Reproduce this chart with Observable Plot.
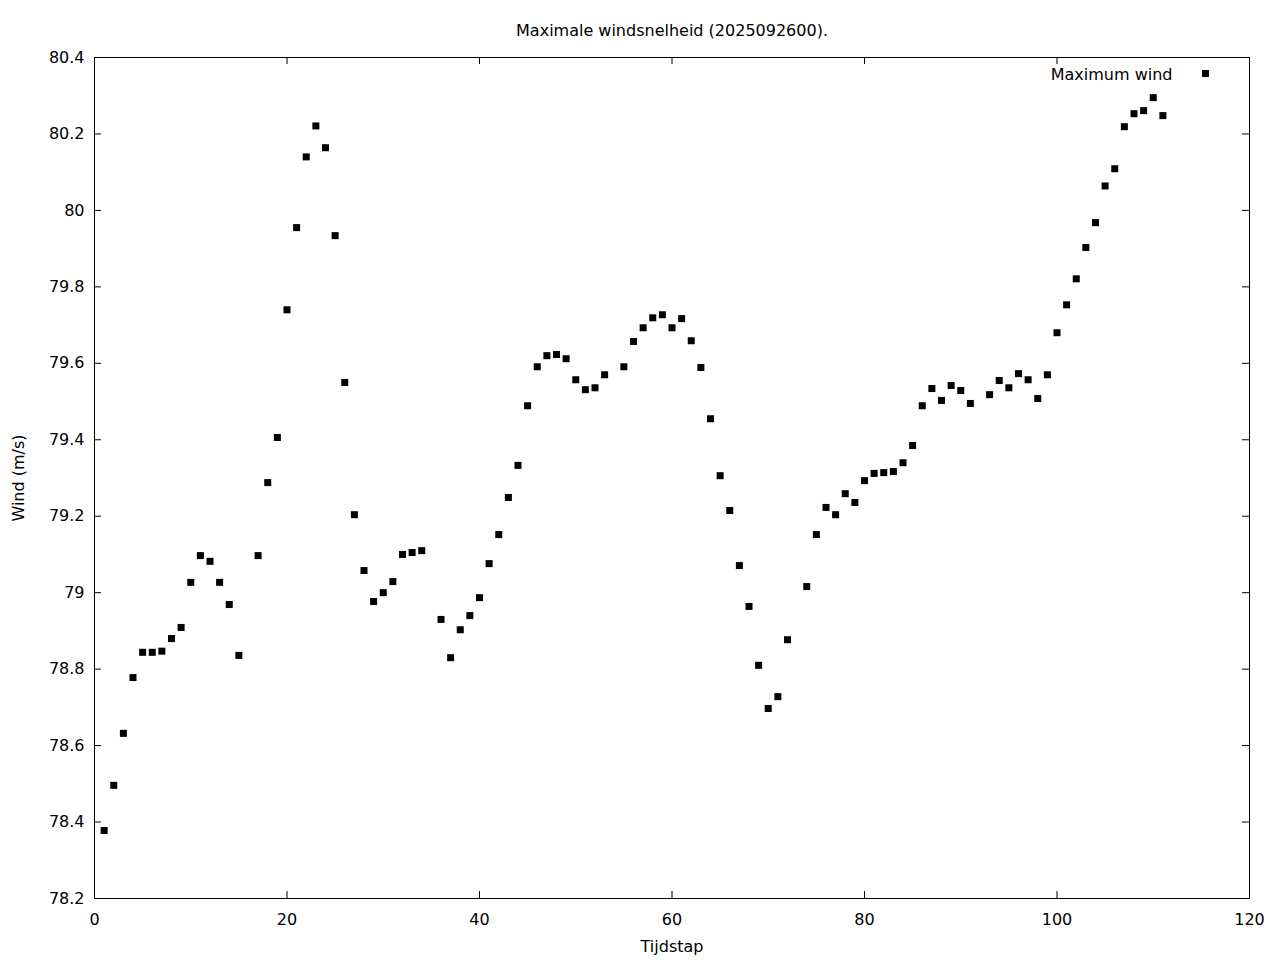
<!DOCTYPE html>
<html>
<head>
<meta charset="utf-8">
<script src="https://cdn.jsdelivr.net/npm/d3@7"></script>
<script src="https://cdn.jsdelivr.net/npm/@observablehq/plot@0.6"></script>
<style>
  html, body { margin: 0; padding: 0; background: #fff; }
  #chart { width: 1280px; height: 960px; }
</style>
</head>
<body>
<div id="chart"></div>
<script>
const title = "Maximale windsnelheid (2025092600).";
const xLabel = "Tijdstap";
const yLabel = "Wind (m/s)";
const legendLabel = "Maximum wind";

const xTicks = [0, 20, 40, 60, 80, 100, 120];
const yTicks = [78.2, 78.4, 78.6, 78.8, 79.0, 79.2, 79.4, 79.6, 79.8, 80.0, 80.2, 80.4];

const tijdstap = [
  1, 2, 3, 4, 5, 6, 7, 8, 9, 10,
  11, 12, 13, 14, 15, 17, 18, 19, 20,
  21, 22, 23, 24, 25, 26, 27, 28, 29, 30,
  31, 32, 33, 34, 36, 37, 38, 39, 40,
  41, 42, 43, 44, 45, 46, 47, 48, 49, 50,
  51, 52, 53, 55, 56, 57, 58, 59, 60,
  61, 62, 63, 64, 65, 66, 67, 68, 69, 70,
  71, 72, 74, 75, 76, 77, 78, 79, 80,
  81, 82, 83, 84, 85, 86, 87, 88, 89, 90,
  91, 93, 94, 95, 96, 97, 98, 99, 100,
  101, 102, 103, 104, 105, 106, 107, 108, 109, 110,
  111
];
const wind = [
  78.378, 78.496, 78.632, 78.778, 78.844, 78.844, 78.847, 78.880, 78.909, 79.027,
  79.097, 79.082, 79.027, 78.969, 78.836, 79.097, 79.288, 79.406, 79.740,
  79.955, 80.140, 80.221, 80.164, 79.934, 79.550, 79.204, 79.058, 78.977, 79.000,
  79.029, 79.100, 79.105, 79.110, 78.930, 78.830, 78.903, 78.940, 78.987,
  79.076, 79.152, 79.249, 79.333, 79.489, 79.591, 79.620, 79.623, 79.612, 79.557,
  79.531, 79.536, 79.570, 79.591, 79.657, 79.693, 79.719, 79.727, 79.693,
  79.717, 79.659, 79.589, 79.455, 79.306, 79.215, 79.071, 78.964, 78.810, 78.697,
  78.728, 78.877, 79.016, 79.152, 79.223, 79.204, 79.259, 79.236, 79.293,
  79.312, 79.314, 79.317, 79.340, 79.385, 79.489, 79.534, 79.503, 79.542, 79.529,
  79.495, 79.518, 79.555, 79.536, 79.573, 79.557, 79.508, 79.570, 79.680,
  79.753, 79.821, 79.903, 79.968, 80.064, 80.109, 80.219, 80.253, 80.261, 80.295,
  80.248
];

const data = tijdstap.map((t, i) => ({t, w: wind[i]}));
const fmtY = d => String(+d.toFixed(1));

const W = 1280, H = 960, mL = 94, mR = 31, mT = 57, mB = 62;
const plotW = W - mL - mR, plotH = H - mT - mB, tick = 7;

const chart = Plot.plot({
  width: W,
  height: H,
  marginLeft: mL,
  marginRight: mR,
  marginTop: mT,
  marginBottom: mB,
  style: {fontFamily: "'DejaVu Sans', sans-serif", fontSize: "16px", color: "black", background: "white"},
  x: {domain: [0, 120]},
  y: {domain: [78.2, 80.4]},
  marks: [
    Plot.frame({stroke: "black", strokeWidth: 1}),
    // inward ticks on all four sides
    Plot.tickX(xTicks, {x: d => d, insetTop: plotH - tick, stroke: "black"}),
    Plot.tickX(xTicks, {x: d => d, insetBottom: plotH - tick, stroke: "black"}),
    Plot.tickY(yTicks, {y: d => d, insetRight: plotW - tick, stroke: "black"}),
    Plot.tickY(yTicks, {y: d => d, insetLeft: plotW - tick, stroke: "black"}),
    // tick labels and axis titles
    Plot.axisX({anchor: "bottom", ticks: xTicks, tickSize: 0, tickPadding: 15,
      label: xLabel, labelAnchor: "center", labelArrow: "none", labelOffset: 53}),
    Plot.axisY({anchor: "left", ticks: yTicks, tickSize: 0, tickPadding: 10, tickFormat: fmtY,
      label: yLabel, labelAnchor: "center", labelArrow: "none", labelOffset: 82}),
    Plot.text([title], {frameAnchor: "top", dy: -33, fontSize: 16}),
    // legend
    Plot.text([legendLabel], {frameAnchor: "top-right", dx: -77, dy: 11, textAnchor: "end", fontSize: 16}),
    Plot.dot([legendLabel], {frameAnchor: "top-right", dx: -44, dy: 16, symbol: "square", r: 3.95, fill: "black"}),
    // data
    Plot.dot(data, {x: "t", y: "w", symbol: "square", r: 3.95, fill: "black"})
  ]
});
document.getElementById("chart").appendChild(chart);
</script>
</body>
</html>
